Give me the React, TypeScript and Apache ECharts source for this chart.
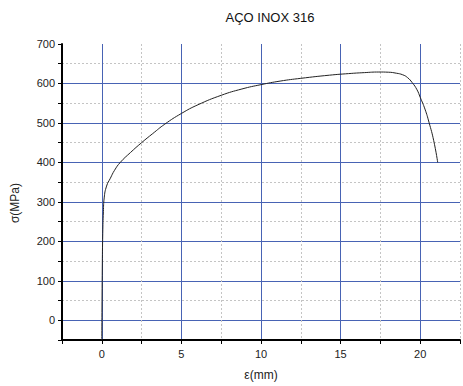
import React, { useEffect, useRef } from "react";
import * as echarts from "echarts";

const strain = [0, 0.03, 0.06, 0.1, 0.15, 0.3, 0.54, 0.8, 1.16, 1.8, 2.5, 3.2, 3.96, 5.0, 6.04, 7.5, 8.8, 10.0, 11.2, 12.5, 14.3, 15.5, 16.5, 17.4, 18.0, 18.5, 18.9, 19.2, 19.5, 19.8, 20.0, 20.3, 20.55, 20.85, 21.1];
const stress = [-50, 130, 220, 275, 310, 340, 360, 380, 400, 425, 450, 473, 497, 524, 546, 570, 586, 597, 606, 613, 621, 625, 627.5, 629, 628.5, 626, 622, 615, 602, 584, 565, 535, 502, 455, 400];

const titleText = "AÇO INOX 316";
const xName = "ε(mm)";
const yName = "σ(MPa)";

const BLUE = "#4863b4";
const GRAY = "#c4c4c4";
const FONT = "Liberation Sans, Arial, sans-serif";

export default function App() {
  const ref = useRef<HTMLDivElement>(null);
  useEffect(() => {
    if (!ref.current) return;
    const chart = echarts.init(ref.current, null, { renderer: "svg" });
    const data = strain.map((x, i) => [x, stress[i]]);
    chart.setOption({
      animation: false,
      backgroundColor: "#ffffff",
      graphic: [
        {
          type: "text",
          x: 270,
          y: 17,
          style: { text: titleText, font: `13px ${FONT}`, fill: "#111", textAlign: "center", textVerticalAlign: "middle" },
        },
        {
          type: "text",
          x: 15,
          y: 203,
          rotation: Math.PI / 2,
          style: { text: yName, font: `12px ${FONT}`, fill: "#222", textAlign: "center", textVerticalAlign: "middle" },
        },
      ],
      grid: { left: 62, top: 44, bottom: 44, right: -1 },
      xAxis: [
        {
          type: "value",
          min: -2.5,
          max: 22.5,
          interval: 2.5,
          name: xName,
          nameLocation: "middle",
          nameGap: 29,
          nameTextStyle: { fontFamily: FONT, fontSize: 12, color: "#222" },
          axisLine: { show: true, onZero: false, lineStyle: { color: "#000", width: 2 } },
          axisTick: { show: true, length: 4, lineStyle: { color: "#000", width: 1 } },
          axisLabel: {
            fontFamily: FONT,
            fontSize: 11,
            color: "#222",
            margin: 8,
            formatter: (v: number) => (Math.abs(v % 5) < 1e-9 ? String(v) : ""),
          },
          splitLine: { show: true, lineStyle: { color: ["transparent", BLUE], width: 1 } },
        },
        {
          type: "value",
          min: -2.5,
          max: 22.5,
          interval: 5,
          position: "bottom",
          axisLine: { show: false },
          axisTick: { show: false },
          axisLabel: { show: false },
          splitLine: { show: true, showMinLine: false, lineStyle: { color: GRAY, width: 1, type: [2, 2] } },
        },
      ],
      yAxis: [
        {
          type: "value",
          min: -50,
          max: 700,
          interval: 50,
          axisLine: { show: true, onZero: false, lineStyle: { color: "#000", width: 2 } },
          axisTick: { show: true, length: 4, lineStyle: { color: "#000", width: 1 } },
          axisLabel: {
            fontFamily: FONT,
            fontSize: 11,
            color: "#222",
            margin: 7,
            formatter: (v: number) => (v % 100 === 0 ? String(v) : ""),
          },
          splitLine: { show: true, showMaxLine: false, lineStyle: { color: ["transparent", BLUE], width: 1 } },
        },
        {
          type: "value",
          min: -50,
          max: 700,
          interval: 100,
          position: "left",
          axisLine: { show: false },
          axisTick: { show: false },
          axisLabel: { show: false },
          splitLine: { show: true, showMinLine: false, showMaxLine: false, lineStyle: { color: GRAY, width: 1, type: [2, 2] } },
        },
      ],
      series: [
        {
          type: "line",
          xAxisIndex: 0,
          yAxisIndex: 0,
          data,
          smooth: 0.5,
          showSymbol: false,
          symbol: "none",
          lineStyle: { color: "#222", width: 1 },
          z: 5,
        },
      ],
    });
    return () => chart.dispose();
  }, []);
  return <div ref={ref} style={{ width: 463, height: 386, position: "absolute", left: 0, top: 0 }} />;
}
